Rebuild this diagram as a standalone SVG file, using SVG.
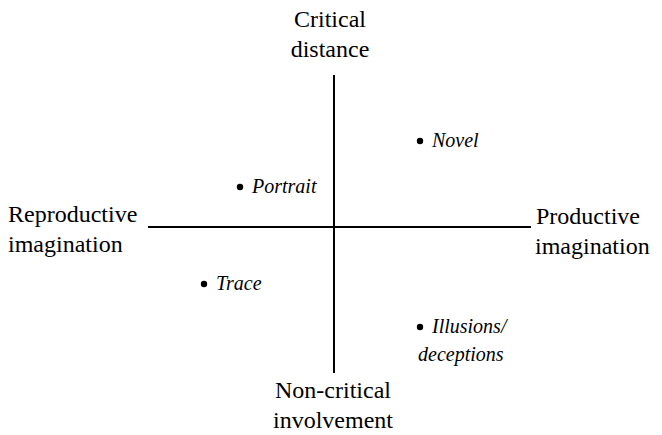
<svg xmlns="http://www.w3.org/2000/svg" width="662" height="435" viewBox="0 0 662 435">
<style>
text{font-family:'Liberation Serif','Times New Roman',serif;fill:#000}
.lab{font-size:24px}
.it{font-size:20px;font-style:italic}
.ax{stroke:#000;stroke-width:2;fill:none}
.dot{fill:#000}
</style>
<rect width="662" height="435" fill="#fff"/>
<g id="connectors">
<line class="ax" x1="334" y1="75" x2="334" y2="373"/>
<line class="ax" x1="148" y1="227" x2="531" y2="227"/>
</g>
<g id="top"><text class="lab" x="330" y="27" text-anchor="middle">Critical</text><text class="lab" x="330" y="57" text-anchor="middle">distance</text></g>
<g id="left"><text class="lab" x="8" y="222">Reproductive</text><text class="lab" x="8" y="252">imagination</text></g>
<g id="right"><text class="lab" x="536" y="224">Productive</text><text class="lab" x="535" y="254">imagination</text></g>
<g id="bottom"><text class="lab" x="333" y="398" text-anchor="middle">Non-critical</text><text class="lab" x="333" y="428" text-anchor="middle">involvement</text></g>
<g id="portrait"><circle class="dot" cx="240" cy="187" r="3.2"/><text class="it" x="252" y="193">Portrait</text></g>
<g id="novel"><circle class="dot" cx="420" cy="141" r="3.2"/><text class="it" x="432" y="147">Novel</text></g>
<g id="trace"><circle class="dot" cx="204" cy="284" r="3.2"/><text class="it" x="216" y="290">Trace</text></g>
<g id="illusions"><circle class="dot" cx="420" cy="327" r="3.2"/><text class="it" x="432" y="333">Illusions/</text><text class="it" x="418" y="361">deceptions</text></g>
</svg>
